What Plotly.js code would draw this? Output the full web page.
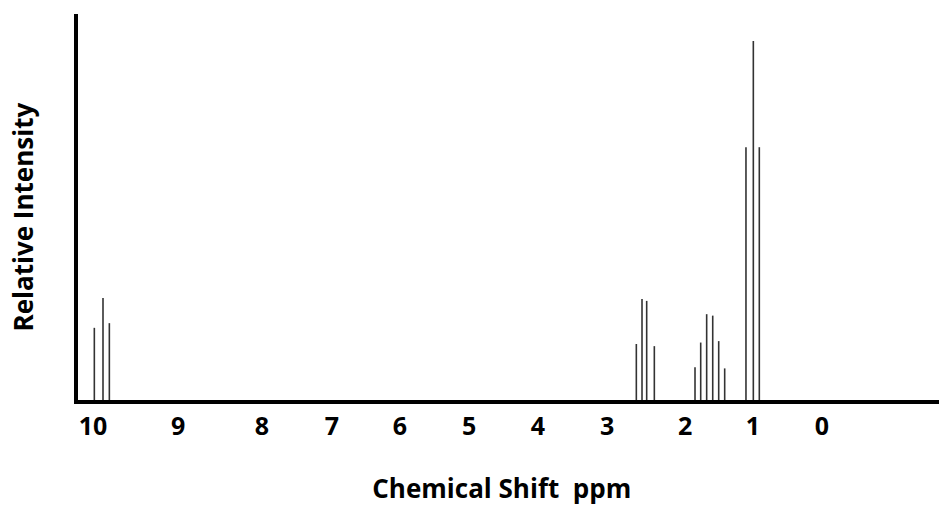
<!DOCTYPE html>
<html>
<head>
<meta charset="utf-8">
<script src="https://cdn.plot.ly/plotly-3.0.1.min.js"></script>
<style>html,body{margin:0;padding:0;background:#fff;}#chart{width:939px;height:507px;}</style>
</head>
<body>
<div id="chart"></div>
<script>
// Peak positions (chemical shift axis units) and relative intensities
const peakShift = [9.982, 9.863, 9.776,
                   2.547, 2.469, 2.405, 2.300,
                   1.742, 1.664, 1.582, 1.499, 1.417, 1.335,
                   1.043, 0.942, 0.860];
const peakIntensity = [20.1, 28.4, 21.4,
                       15.6, 28.1, 27.6, 15.0,
                       9.1, 16.0, 23.9, 23.5, 16.4, 8.8,
                       70.4, 100, 70.4];
// Tick labels as drawn in the picture, and where they sit along the axis
const tickLabels = ["10", "9", "8", "7", "6", "5", "4", "3", "2", "1", "0"];
const tickPositions = [10, 8.834, 7.682, 6.722, 5.789, 4.842, 3.896, 2.949, 1.879, 0.947, 0];

// Build stick spectrum: one vertical segment per peak
const xs = [], ys = [];
for (let i = 0; i < peakShift.length; i++) {
  xs.push(peakShift[i], peakShift[i], null);
  ys.push(0, peakIntensity[i], null);
}

const font = 'Open Sans, Lato, sans-serif';
const trace = {
  x: xs, y: ys, type: 'scatter', mode: 'lines',
  line: {color: '#333333', width: 1.6},
  hoverinfo: 'skip', showlegend: false, connectgaps: false
};

const layout = {
  width: 939, height: 507,
  margin: {l: 78, r: 0, t: 14, b: 107, pad: 0},
  paper_bgcolor: '#ffffff', plot_bgcolor: '#ffffff',
  showlegend: false,
  xaxis: {
    range: [10.206, -1.605],
    showline: true, linewidth: 4, linecolor: '#000000',
    showgrid: false, zeroline: false, ticks: '',
    tickmode: 'array', tickvals: tickPositions, ticktext: tickLabels,
    tickfont: {family: font, size: 25, color: '#000000', weight: 'bold'},
    ticklabelstandoff: 1,
    title: {text: 'Chemical Shift\u00a0 ppm\u00a0\u00a0\u200b', font: {family: font, size: 26, color: '#000000', weight: 'bold'}, standoff: 40},
    automargin: false, fixedrange: true
  },
  yaxis: {
    range: [0, 107.5],
    showline: true, linewidth: 4, linecolor: '#000000',
    showgrid: false, zeroline: false, ticks: '', showticklabels: false,
    title: {text: 'Relative Intensity\u00a0\u00a0\u00a0\u200b', font: {family: font, size: 26, color: '#000000', weight: 'bold'}, standoff: 34},
    automargin: false, fixedrange: true
  }
};

Plotly.newPlot('chart', [trace], layout, {displayModeBar: false, staticPlot: true});
</script>
</body>
</html>
